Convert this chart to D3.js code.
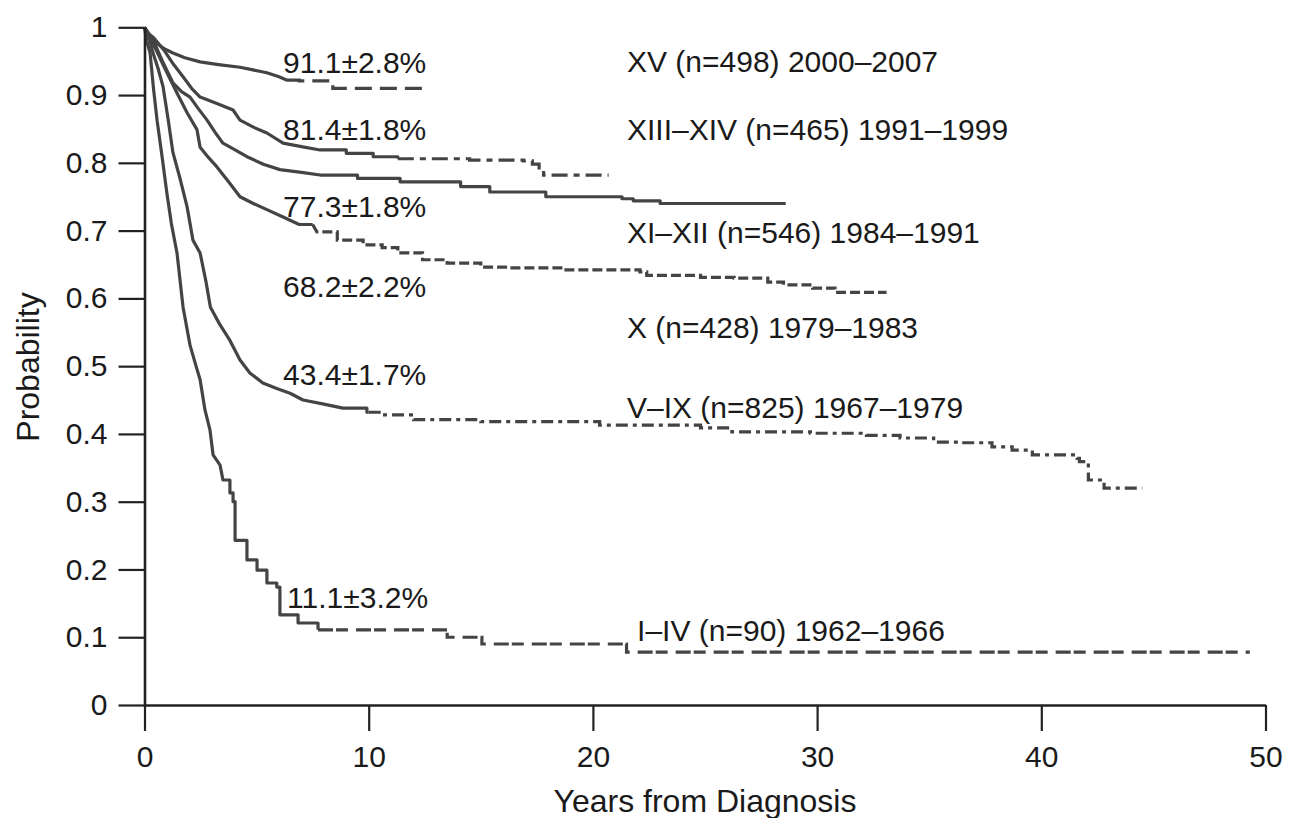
<!DOCTYPE html>
<html>
<head>
<meta charset="utf-8">
<script src="https://cdn.jsdelivr.net/npm/d3@7"></script>
<style>
  body { margin: 0; background: #fff; }
  text { font-family: "Liberation Sans", Arial, sans-serif; fill: #1a1a1a; }
</style>
</head>
<body>
<script>
// survival curves, [years, probability]
var curveXV = [[0,1],[0.15,0.99],[0.3,0.985],[0.6,0.975],[0.9,0.968],[1.27,0.962],[1.8,0.955],[2.48,0.949],[3.3,0.945],[4.26,0.941],[5.46,0.933],[6.0,0.927],[6.36,0.922],[6.9,0.921],[8.4,0.910],[12.5,0.910]];

var curveXIII = [[0,1],[0.2,0.99],[0.4,0.985],[0.9,0.965],[1.3,0.945],[1.72,0.927],[2.1,0.91],[2.48,0.897],[3.2,0.888],[3.95,0.878],[4.26,0.863],[4.9,0.852],[5.46,0.844],[6.18,0.829],[7.0,0.824],[7.83,0.819],[9.0,0.814],[10.2,0.809],[11.3,0.806],[14.5,0.804],[16.9,0.803],[17.3,0.798],[17.6,0.790],[17.8,0.782],[20.7,0.782]];

var curveXI = [[0,1],[0.2,0.99],[0.4,0.98],[0.8,0.95],[1.27,0.918],[1.65,0.905],[2.03,0.897],[2.4,0.88],[2.79,0.863],[3.15,0.845],[3.5,0.829],[4.0,0.82],[4.57,0.809],[5.3,0.798],[6.04,0.790],[7.0,0.786],[7.83,0.782],[9.5,0.777],[11.4,0.772],[14.1,0.765],[15.4,0.757],[17.9,0.750],[21.3,0.747],[21.8,0.744],[23.0,0.740],[28.6,0.740]];

var curveX = [[0,1],[0.2,0.99],[0.4,0.975],[0.9,0.94],[1.45,0.903],[1.9,0.874],[2.34,0.849],[2.48,0.823],[2.85,0.808],[3.23,0.794],[3.75,0.772],[4.26,0.750],[4.85,0.740],[5.46,0.731],[6.18,0.720],[6.9,0.709],[7.69,0.698],[8.6,0.686],[9.75,0.679],[10.6,0.675],[11.3,0.667],[12.4,0.657],[13.5,0.652],[15.0,0.646],[16.3,0.645],[18.8,0.642],[22.1,0.639],[22.4,0.634],[24.8,0.631],[26.3,0.630],[27.8,0.624],[28.5,0.620],[29.8,0.615],[30.8,0.609],[33.1,0.609]];

var curveVIX = [[0,1],[0.2,0.985],[0.38,0.962],[0.6,0.94],[0.83,0.912],[1.05,0.865],[1.27,0.815],[1.6,0.775],[1.9,0.735],[2.16,0.686],[2.48,0.667],[2.74,0.625],[2.94,0.587],[3.35,0.562],[3.81,0.538],[4.26,0.509],[4.7,0.490],[5.28,0.475],[5.9,0.467],[6.49,0.460],[7.07,0.450],[8.0,0.444],[8.85,0.438],[9.92,0.432],[10.6,0.428],[12.0,0.421],[15.0,0.418],[20.3,0.413],[24.8,0.409],[26.2,0.403],[29.7,0.401],[32.2,0.398],[33.7,0.394],[35.2,0.388],[36.4,0.387],[37.8,0.381],[38.7,0.376],[39.6,0.369],[41.6,0.364],[41.7,0.359],[42.1,0.332],[42.8,0.320],[44.5,0.320]];

var curveIIV = [[0,1],[0.1,0.98],[0.25,0.962],[0.4,0.91],[0.56,0.863],[0.78,0.81],[1.0,0.755],[1.2,0.71],[1.45,0.667],[1.72,0.587],[2.03,0.531],[2.3,0.50],[2.48,0.48],[2.7,0.435],[2.92,0.406],[3.06,0.369],[3.37,0.354],[3.5,0.332],[3.81,0.313],[3.95,0.300],[4.04,0.243],[4.57,0.214],[5.02,0.199],[5.46,0.180],[5.9,0.174],[6.04,0.133],[6.85,0.121],[7.74,0.111],[13.5,0.100],[15.05,0.090],[21.5,0.078],[49.3,0.078]];

// year after which each curve is drawn dashed
var dashFrom = [6.4, 11.3, 99, 7.5, 10, 7.74];

var pctLabels = ["91.1\u00b12.8%", "81.4\u00b11.8%", "77.3\u00b11.8%", "68.2\u00b12.2%", "43.4\u00b11.7%", "11.1\u00b13.2%"];
var groupLabels = ["XV (n=498) 2000\u20132007", "XIII\u2013XIV (n=465) 1991\u20131999", "XI\u2013XII (n=546) 1984\u20131991",
                   "X (n=428) 1979\u20131983", "V\u2013IX (n=825) 1967\u20131979", "I\u2013IV (n=90) 1962\u20131966"];

var xTicks = [0, 10, 20, 30, 40, 50];
var yTicks = [0, 0.1, 0.2, 0.3, 0.4, 0.5, 0.6, 0.7, 0.8, 0.9, 1];

var curves = [curveXV, curveXIII, curveXI, curveX, curveVIX, curveIIV];
var dashes = ["17,8", "16,6,6,6", null, "10,4", "12,5,4,5", "15,3,12,8"];
// before this year the many small steps are drawn as a jagged slope
var denseUntil = [6.4, 8, 8, 8, 9, 3.5];

// label anchors in chart units (years, probability)
var pctPos = [[6.18,0.9326],[6.18,0.8337],[6.18,0.7201],[6.18,0.6020],[6.18,0.4722],[6.36,0.1431]];
var groupPos = [[21.52,0.934],[21.52,0.834],[21.52,0.682],[21.52,0.541],[21.52,0.4235],[21.97,0.0944]];

var width = 1295, height = 818;

var x = d3.scaleLinear().domain([0, 50]).range([144.5, 1265.5]);
var y = d3.scaleLinear().domain([0, 1]).range([705, 27.3]);

var svg = d3.select("body").append("svg")
    .attr("width", width)
    .attr("height", height);

var line = d3.line()
    .x(function(d) { return x(d[0]); })
    .y(function(d) { return y(d[1]); });

// step corners only where the curve is sparse
function stepPoints(pts, dense) {
  var out = [pts[0]];
  for (var i = 1; i < pts.length; i++) {
    if (pts[i][0] > dense) out.push([pts[i][0], pts[i-1][1]]);
    out.push(pts[i]);
  }
  return out;
}

function splitAt(pts, cut) {
  var solid = pts.filter(function(d) { return d[0] <= cut; });
  var last = solid[solid.length - 1];
  var dashed = [[cut, last[1]]].concat(pts.filter(function(d) { return d[0] > cut; }));
  if (last[0] < cut && dashed.length > 1) solid.push([cut, last[1]]);
  return [solid, dashed];
}

curves.forEach(function(pts, i) {
  var parts = splitAt(stepPoints(pts, denseUntil[i]), dashFrom[i]);
  svg.append("path")
      .attr("d", line(parts[0]))
      .attr("fill", "none")
      .attr("stroke", "#444")
      .attr("stroke-width", 3.2)
      .attr("stroke-linejoin", "round");
  if (parts[1].length > 1) {
    svg.append("path")
        .attr("d", line(parts[1]))
        .attr("fill", "none")
        .attr("stroke", "#444")
        .attr("stroke-width", 3.2)
        .attr("stroke-dasharray", dashes[i]);
  }
});

// axes
var xAxis = svg.append("g")
    .attr("transform", "translate(0," + y(0) + ")")
    .call(d3.axisBottom(x).tickValues(xTicks).tickSize(26).tickSizeOuter(0).tickPadding(15));

var yAxis = svg.append("g")
    .attr("transform", "translate(" + x(0) + ",0)")
    .call(d3.axisLeft(y).tickValues(yTicks).tickSize(26).tickSizeOuter(0).tickPadding(11)
      .tickFormat(d3.format("~g")));

[xAxis, yAxis].forEach(function(g) {
  g.select(".domain").attr("stroke", "#222").attr("stroke-width", 2.6);
  g.selectAll(".tick line").attr("stroke", "#222").attr("stroke-width", 2.2);
  g.selectAll(".tick text").attr("font-size", 30).attr("fill", "#1a1a1a")
      .attr("font-family", "Liberation Sans, Arial, sans-serif");
});

svg.append("text")
    .attr("x", 705)
    .attr("y", 812)
    .attr("text-anchor", "middle")
    .attr("font-size", 32)
    .text("Years from Diagnosis");

svg.append("text")
    .attr("transform", "translate(39,367) rotate(-90)")
    .attr("text-anchor", "middle")
    .attr("font-size", 32)
    .text("Probability");

// annotations
pctLabels.forEach(function(t, i) {
  svg.append("text")
      .attr("x", x(pctPos[i][0]))
      .attr("y", y(pctPos[i][1]))
      .attr("font-size", 30)
      .text(t);
});

groupLabels.forEach(function(t, i) {
  svg.append("text")
      .attr("x", x(groupPos[i][0]))
      .attr("y", y(groupPos[i][1]))
      .attr("font-size", 30)
      .text(t);
});
</script>
</body>
</html>
